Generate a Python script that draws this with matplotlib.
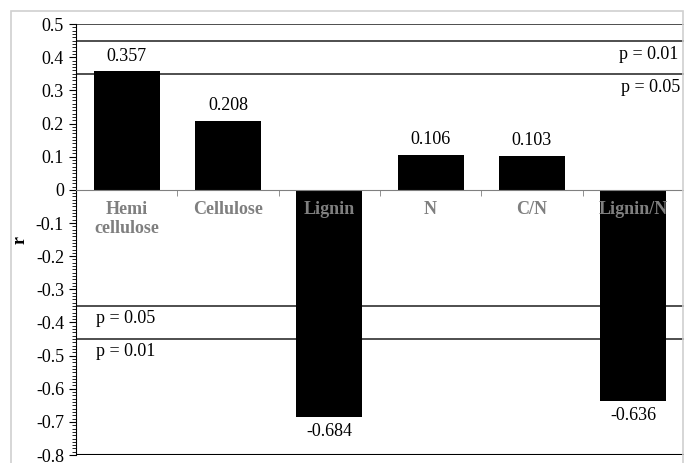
import matplotlib
matplotlib.use("Agg")
import matplotlib.pyplot as plt
from matplotlib.patches import Rectangle
from matplotlib.ticker import MultipleLocator, FixedLocator
import numpy as np

categories = ["Hemi\ncellulose", "Cellulose", "Lignin", "N", "C/N", "Lignin/N"]
r_values = [0.357, 0.208, -0.684, 0.106, 0.103, -0.636]
value_labels = ["0.357", "0.208", "-0.684", "0.106", "0.103", "-0.636"]
sig_levels = [0.35, 0.45]  # p = 0.05, p = 0.01
y_ticks = [-0.8, -0.7, -0.6, -0.5, -0.4, -0.3, -0.2, -0.1, 0, 0.1, 0.2, 0.3, 0.4, 0.5]
y_ticklabels = ["-0.8", "-0.7", "-0.6", "-0.5", "-0.4", "-0.3", "-0.2", "-0.1",
                "0", "0.1", "0.2", "0.3", "0.4", "0.5"]

plt.rcParams["font.family"] = ["Liberation Serif", "DejaVu Serif"]
fs = 13

fig = plt.figure(figsize=(6.84, 4.63), dpi=100)
ax = fig.add_axes([0.111, 0.017, 0.889, 0.931])

# chart area border
fig.patches.append(Rectangle((11 / 684, -0.1), 672 / 684, 1 - 11 / 463 + 0.1,
                             transform=fig.transFigure, fill=False,
                             edgecolor="#d0d0d0", lw=1.2))

x = np.arange(len(categories))
ax.bar(x, r_values, width=0.65, color="black", zorder=3)

for xi, v, lab in zip(x, r_values, value_labels):
    if v >= 0:
        ax.text(xi, v + 0.02, lab, ha="center", va="bottom", fontsize=fs)
    else:
        ax.text(xi, v - 0.02, lab, ha="center", va="top", fontsize=fs)

# category names drawn on top of the bars
for xi, c in zip(x, categories):
    ax.text(xi, -0.035, c, ha="center", va="top", fontsize=fs,
            fontweight="bold", color="#7f7f7f", zorder=6, linespacing=1.15)

line_col = "#404040"
for s in sig_levels:
    ax.axhline(s, color=line_col, lw=1.3, zorder=2)
    ax.axhline(-s, color=line_col, lw=1.3, zorder=2)
ax.axhline(0.5, color=line_col, lw=1.3, zorder=2)
ax.axhline(-0.8, color="black", lw=1.5, zorder=2)

ax.text(5.44, 0.435, "p = 0.01", ha="right", va="top", fontsize=fs)
ax.text(5.46, 0.335, "p = 0.05", ha="right", va="top", fontsize=fs)
ax.text(-0.3, -0.362, "p = 0.05", ha="left", va="top", fontsize=fs)
ax.text(-0.3, -0.462, "p = 0.01", ha="left", va="top", fontsize=fs)

ax.set_xlim(-0.5, 5.5)
ax.set_ylim(-0.8, 0.5)

for sp in ["top", "right"]:
    ax.spines[sp].set_visible(False)
ax.spines["bottom"].set_position(("data", 0))
ax.spines["bottom"].set_color("#808080")
ax.spines["bottom"].set_zorder(4)
ax.spines["left"].set_color("black")

ax.set_xticks(x)
ax.set_xticklabels([])
ax.xaxis.set_minor_locator(FixedLocator(np.arange(-0.5, 6.0, 1.0)))
ax.tick_params(axis="x", which="major", length=0)
ax.tick_params(axis="x", which="minor", length=4, color="#808080")

ax.set_yticks(y_ticks)
ax.set_yticklabels(y_ticklabels)
ax.yaxis.set_minor_locator(MultipleLocator(0.01))
ax.tick_params(axis="y", which="major", length=5, labelsize=fs, direction="out")
ax.tick_params(axis="y", which="minor", length=3, direction="out")

fig.text(20 / 684, 1 - 240 / 463, "r", rotation=90, fontsize=fs,
         fontweight="bold", ha="center", va="center")

fig.savefig("out.png", dpi=100)
